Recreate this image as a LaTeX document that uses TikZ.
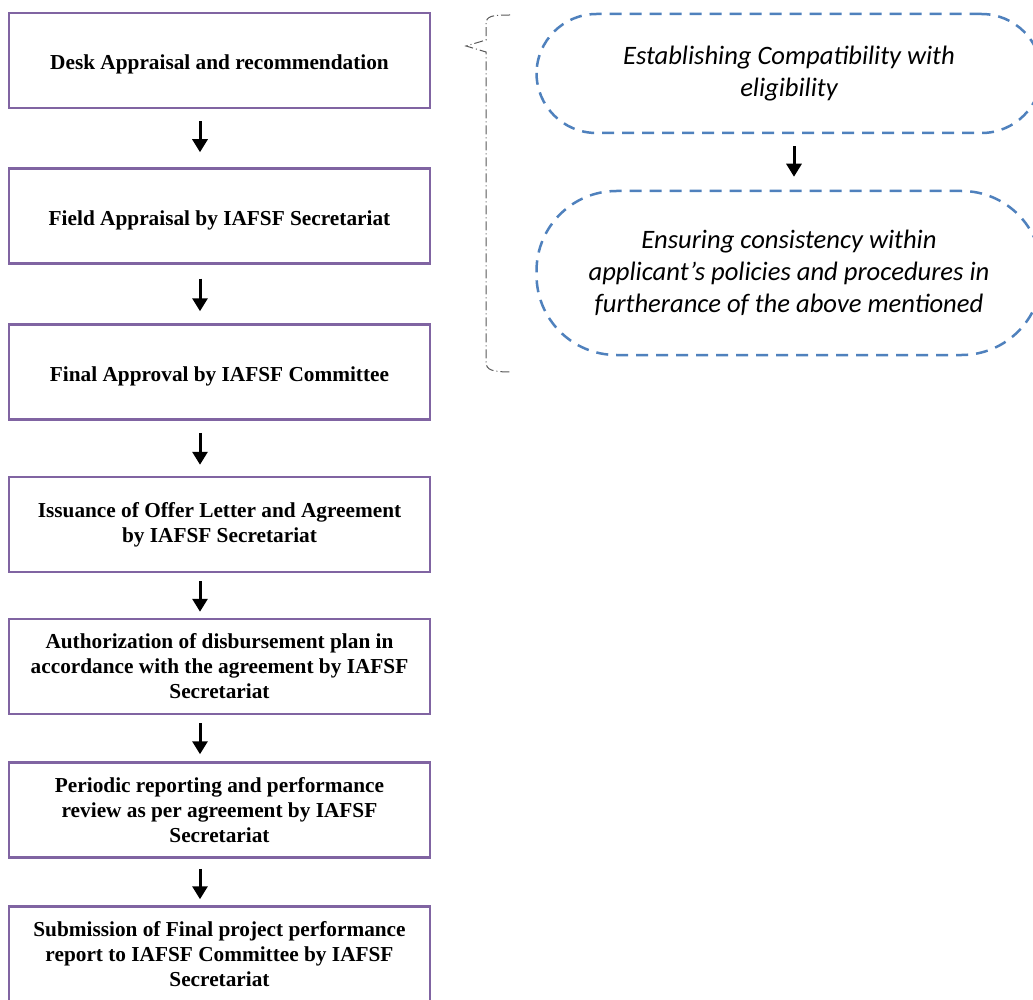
\documentclass[tikz,border=0pt]{standalone}
\usepackage{fontspec}
\setmainfont{Liberation Serif}
\newfontfamily\calib{Carlito}
\usetikzlibrary{arrows.meta}
\definecolor{boxpurple}{HTML}{8064A2}
\definecolor{dashblue}{HTML}{4F81BD}
\tikzset{
  stepbox/.style={draw=boxpurple, line width=2.5pt, minimum width=421pt, minimum height=95pt,
    align=center, font=\fontsize{21.3}{25}\selectfont\bfseries, inner sep=0pt},
  steptext/.style={font=\fontsize{21.3}{25}\selectfont\bfseries, inner sep=0pt, yshift=-4pt},
  ellbox/.style={draw=dashblue, line width=2.5pt, dash pattern=on 12pt off 8pt,
    minimum width=505pt, align=center, font=\calib\itshape\fontsize{26.6}{32}\selectfont, inner sep=0pt},
  flow/.style={line width=3pt, -{Triangle[length=13pt,width=15pt]}},
  bracegray/.style={draw=black!65, line width=1pt, dash pattern=on 9pt off 3pt on 1pt off 3pt}
}
\begin{document}
\begin{tikzpicture}[x=1pt,y=-1pt]
\useasboundingbox (0,0) rectangle (1033,1000);
\clip (0,0) rectangle (1033,1000);
\fill[white] (0,0) rectangle (1033,1000);

\node[stepbox, label={[steptext]center:Desk Appraisal and recommendation}] (b1) at (219.5,60.5) {};
\node[stepbox, label={[steptext]center:Field Appraisal by IAFSF Secretariat}] (b2) at (219.5,216) {};
\node[stepbox, label={[steptext]center:Final Approval by IAFSF Committee}] (b3) at (219.5,372) {};
\node[stepbox] (b4) at (219.5,524.5) {Issuance of Offer Letter and Agreement\\by IAFSF Secretariat};
\node[stepbox] (b5) at (219.5,666.5) {Authorization of disbursement plan in\\accordance with the agreement by IAFSF\\Secretariat};
\node[stepbox] (b6) at (219.5,810) {Periodic reporting and performance\\review as per agreement by IAFSF\\Secretariat};
\node[stepbox] (b7) at (219.5,954) {Submission of Final project performance\\report to IAFSF Committee by IAFSF\\Secretariat};

\draw[flow, shorten <=12pt, shorten >=15pt] ([xshift=-19.5pt]b1.south) -- ([xshift=-19.5pt]b2.north);
\draw[flow, shorten <=14pt, shorten >=12pt] ([xshift=-19.5pt]b2.south) -- ([xshift=-19.5pt]b3.north);
\draw[flow, shorten <=12pt, shorten >=11pt] ([xshift=-19.5pt]b3.south) -- ([xshift=-19.5pt]b4.north);
\draw[flow, shorten <=8pt, shorten >=6pt] ([xshift=-19.5pt]b4.south) -- ([xshift=-19.5pt]b5.north);
\draw[flow, shorten <=8pt, shorten >=7pt] ([xshift=-19.5pt]b5.south) -- ([xshift=-19.5pt]b6.north);
\draw[flow, shorten <=10pt, shorten >=6pt] ([xshift=-19.5pt]b6.south) -- ([xshift=-19.5pt]b7.north);

\node[ellbox, minimum height=119pt, rounded corners=60pt] (e1) at (789,73.5)
  {Establishing Compatibility with\\eligibility};
\node[ellbox, minimum height=164pt, rounded corners=80pt] (e2) at (789,273)
  {Ensuring consistency within\\applicant’s policies and procedures in\\furtherance of the above mentioned};
\draw[flow, shorten <=12pt, shorten >=13pt] ([xshift=5pt]e1.south) -- ([xshift=5pt]e2.north);

\draw[bracegray] (510,15) .. controls (492,15) and (486,16) .. (486,24) -- (486,40) -- (466,46) -- (486,52) -- (486,362)
  .. controls (486,370) and (492,372) .. (512,372);
\end{tikzpicture}
\end{document}
